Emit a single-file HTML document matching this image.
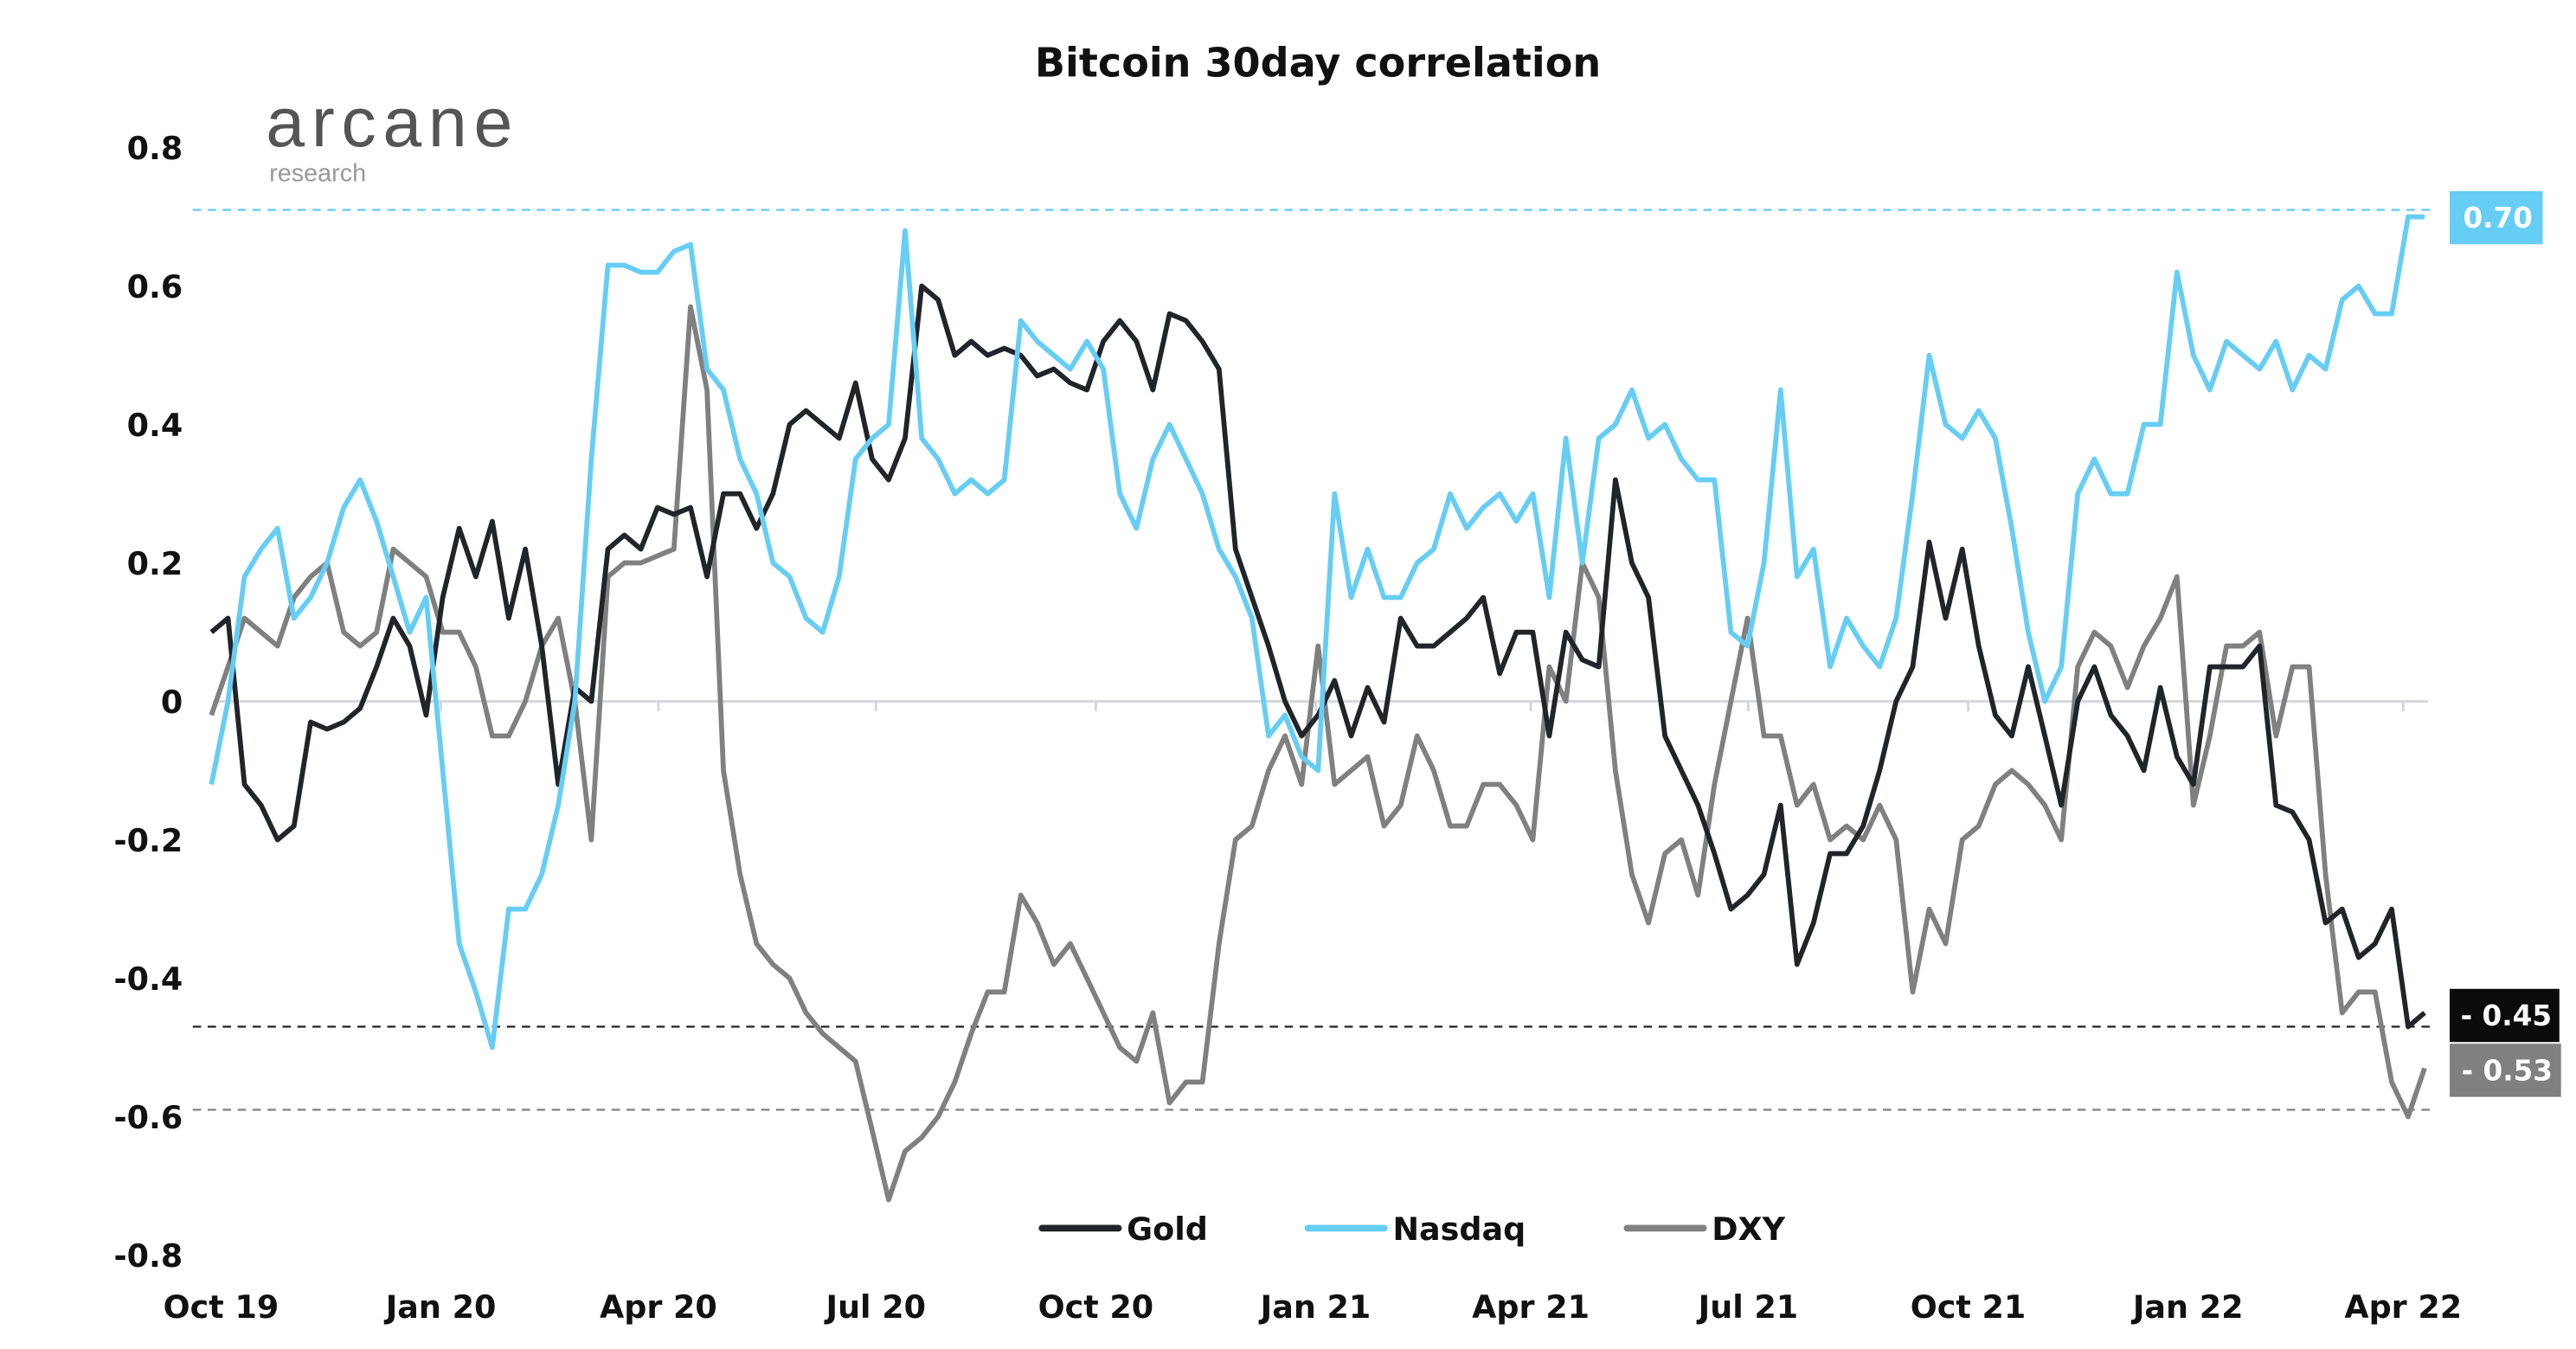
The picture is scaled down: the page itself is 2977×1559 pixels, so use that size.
<!DOCTYPE html>
<html><head><meta charset="utf-8"><style>
html,body{margin:0;padding:0;background:#fff;}
svg{display:block;font-family:"DejaVu Sans","Liberation Sans",sans-serif;}
</style></head><body>
<svg id="chart" width="2977" height="1559" viewBox="0 0 1550 811.7" preserveAspectRatio="none" xmlns="http://www.w3.org/2000/svg">
<text x="793" y="46" text-anchor="middle" font-weight="bold" font-size="24" fill="#111">Bitcoin 30day correlation</text>
<text x="160" y="88" font-size="42" fill="#555" font-family="Liberation Sans, sans-serif" letter-spacing="4">arcane</text>
<text x="162" y="109" font-size="15" fill="#999" font-family="Liberation Sans, sans-serif">research</text>
<g id="yaxis"></g>
<g id="xaxis"></g>
<g id="refs"></g>
<g id="series"></g>
<g id="endlabels"></g>
<g>
 <g><line x1="627" y1="739" x2="673" y2="739" stroke="#212428" stroke-width="4" stroke-linecap="round"/><text x="678" y="746" font-size="19" font-weight="bold" fill="#111">Gold</text></g>
 <g><line x1="787" y1="739" x2="833" y2="739" stroke="#66cdf5" stroke-width="4" stroke-linecap="round"/><text x="838" y="746" font-size="19" font-weight="bold" fill="#111">Nasdaq</text></g>
 <g><line x1="979" y1="739" x2="1025" y2="739" stroke="#808080" stroke-width="4" stroke-linecap="round"/><text x="1030" y="746" font-size="19" font-weight="bold" fill="#111">DXY</text></g>
</g>
</svg>
<script>
const yTicks=[0.8,0.6,0.4,0.2,0,-0.2,-0.4,-0.6,-0.8];
const yTickLabels=["0.8","0.6","0.4","0.2","0","-0.2","-0.4","-0.6","-0.8"];
const xTickLabels=["Oct 19","Jan 20","Apr 20","Jul 20","Oct 20","Jan 21","Apr 21","Jul 21","Oct 21","Jan 22","Apr 22"];
const xTickDates=["2019-10-01","2020-01-01","2020-04-01","2020-07-01","2020-10-01","2021-01-01","2021-04-01","2021-07-01","2021-10-01","2022-01-01","2022-04-01"];
const seriesStart="2019-09-27";
const seriesEnd="2022-04-10";
const gold=[0.1,0.12,-0.12,-0.15,-0.2,-0.18,-0.03,-0.04,-0.03,-0.01,0.05,0.12,0.08,-0.02,0.15,0.25,0.18,0.26,0.12,0.22,0.08,-0.12,0.02,0.0,0.22,0.24,0.22,0.28,0.27,0.28,0.18,0.3,0.3,0.25,0.3,0.4,0.42,0.4,0.38,0.46,0.35,0.32,0.38,0.6,0.58,0.5,0.52,0.5,0.51,0.5,0.47,0.48,0.46,0.45,0.52,0.55,0.52,0.45,0.56,0.55,0.52,0.48,0.22,0.15,0.08,0.0,-0.05,-0.02,0.03,-0.05,0.02,-0.03,0.12,0.08,0.08,0.1,0.12,0.15,0.04,0.1,0.1,-0.05,0.1,0.06,0.05,0.32,0.2,0.15,-0.05,-0.1,-0.15,-0.22,-0.3,-0.28,-0.25,-0.15,-0.38,-0.32,-0.22,-0.22,-0.18,-0.1,0.0,0.05,0.23,0.12,0.22,0.08,-0.02,-0.05,0.05,-0.05,-0.15,0.0,0.05,-0.02,-0.05,-0.1,0.02,-0.08,-0.12,0.05,0.05,0.05,0.08,-0.15,-0.16,-0.2,-0.32,-0.3,-0.37,-0.35,-0.3,-0.47,-0.45];
const nasdaq=[-0.12,0.0,0.18,0.22,0.25,0.12,0.15,0.2,0.28,0.32,0.26,0.18,0.1,0.15,-0.1,-0.35,-0.42,-0.5,-0.3,-0.3,-0.25,-0.15,0.0,0.35,0.63,0.63,0.62,0.62,0.65,0.66,0.48,0.45,0.35,0.3,0.2,0.18,0.12,0.1,0.18,0.35,0.38,0.4,0.68,0.38,0.35,0.3,0.32,0.3,0.32,0.55,0.52,0.5,0.48,0.52,0.48,0.3,0.25,0.35,0.4,0.35,0.3,0.22,0.18,0.12,-0.05,-0.02,-0.08,-0.1,0.3,0.15,0.22,0.15,0.15,0.2,0.22,0.3,0.25,0.28,0.3,0.26,0.3,0.15,0.38,0.2,0.38,0.4,0.45,0.38,0.4,0.35,0.32,0.32,0.1,0.08,0.2,0.45,0.18,0.22,0.05,0.12,0.08,0.05,0.12,0.3,0.5,0.4,0.38,0.42,0.38,0.25,0.1,0.0,0.05,0.3,0.35,0.3,0.3,0.4,0.4,0.62,0.5,0.45,0.52,0.5,0.48,0.52,0.45,0.5,0.48,0.58,0.6,0.56,0.56,0.7,0.7];
const dxy=[-0.02,0.05,0.12,0.1,0.08,0.15,0.18,0.2,0.1,0.08,0.1,0.22,0.2,0.18,0.1,0.1,0.05,-0.05,-0.05,0.0,0.08,0.12,0.0,-0.2,0.18,0.2,0.2,0.21,0.22,0.57,0.45,-0.1,-0.25,-0.35,-0.38,-0.4,-0.45,-0.48,-0.5,-0.52,-0.62,-0.72,-0.65,-0.63,-0.6,-0.55,-0.48,-0.42,-0.42,-0.28,-0.32,-0.38,-0.35,-0.4,-0.45,-0.5,-0.52,-0.45,-0.58,-0.55,-0.55,-0.35,-0.2,-0.18,-0.1,-0.05,-0.12,0.08,-0.12,-0.1,-0.08,-0.18,-0.15,-0.05,-0.1,-0.18,-0.18,-0.12,-0.12,-0.15,-0.2,0.05,0.0,0.2,0.15,-0.1,-0.25,-0.32,-0.22,-0.2,-0.28,-0.12,0.0,0.12,-0.05,-0.05,-0.15,-0.12,-0.2,-0.18,-0.2,-0.15,-0.2,-0.42,-0.3,-0.35,-0.2,-0.18,-0.12,-0.1,-0.12,-0.15,-0.2,0.05,0.1,0.08,0.02,0.08,0.12,0.18,-0.15,-0.05,0.08,0.08,0.1,-0.05,0.05,0.05,-0.25,-0.45,-0.42,-0.42,-0.55,-0.6,-0.53];
const refValues=[0.71,-0.47,-0.59];
const endLabels=["0.70","- 0.45","- 0.53"];

const NS="http://www.w3.org/2000/svg";
const d0=Date.parse("2019-10-01"), d1=Date.parse("2022-04-01");
function xScale(t){return 133+(t-d0)/(d1-d0)*1313;}
function yScale(v){return 422-v*416.5;}
function mk(tag,attrs,parent){const e=document.createElementNS(NS,tag);for(const k in attrs)e.setAttribute(k,attrs[k]);parent.appendChild(e);return e;}

const ya=document.getElementById('yaxis');
yTicks.forEach((v,i)=>{
  const t=mk('text',{x:110,y:yScale(v)+7,'text-anchor':'end','font-size':19,'font-weight':'bold',fill:'#111'},ya);
  
  
  t.textContent=yTickLabels[i];
});
const xa=document.getElementById('xaxis');
const zl=mk('line',{x1:128,x2:1461,y1:yScale(0),y2:yScale(0),stroke:'#d4d6dd','stroke-width':1.5},xa);


xTickDates.forEach((d,i)=>{
  const x=xScale(Date.parse(d));
  if(i>0){const tk=mk('line',{x1:x,x2:x,y1:yScale(0),y2:yScale(0)+6,stroke:'#d4d6dd','stroke-width':1.5},xa);
  
  }
  const t=mk('text',{x:x,y:793,'text-anchor':'middle','font-size':19,'font-weight':'bold',fill:'#111'},xa);
  
  
  t.textContent=xTickLabels[i];
});

const colors=["#66cdf5","#222","#808080"];
const refs=document.getElementById('refs');
refValues.forEach((v,i)=>{
  const l=mk('line',{x1:116,x2:1462,y1:yScale(v),y2:yScale(v),stroke:colors[i],'stroke-width':1.2,'stroke-dasharray':'5,4'},refs);
  
  
});

const sg=document.getElementById('series');
const sStart=Date.parse(seriesStart), sEnd=Date.parse(seriesEnd);
function drawSeries(arr,color,name){
  const n=arr.length;
  const pts=arr.map((v,i)=>{const t=sStart+(sEnd-sStart)*i/(n-1);return xScale(t).toFixed(1)+','+yScale(v).toFixed(1);}).join(' ');
  const p=mk('polyline',{points:pts,fill:'none',stroke:color,'stroke-width':3,'stroke-linejoin':'round'},sg);
  
  
}
drawSeries(dxy,"#808080","dxy-line");
drawSeries(gold,"#212428","gold-line");
drawSeries(nasdaq,"#66cdf5","nasdaq-line");

const el=document.getElementById('endlabels');
const boxes=[{y:115,w:56,c:"#66cdf5"},{y:595,w:66,c:"#0b0b0b"},{y:628,w:67,c:"#808080"}];
boxes.forEach((b,i)=>{
  const r=mk('rect',{x:1474,y:b.y,width:b.w,height:32,fill:b.c},el);
  
  
  const t=mk('text',{x:1474+b.w/2+1,y:b.y+22,'text-anchor':'middle','font-size':17,'font-weight':'bold',fill:'#fff'},el);
  
  
  t.textContent=endLabels[i];
});
</script>
</body></html>
